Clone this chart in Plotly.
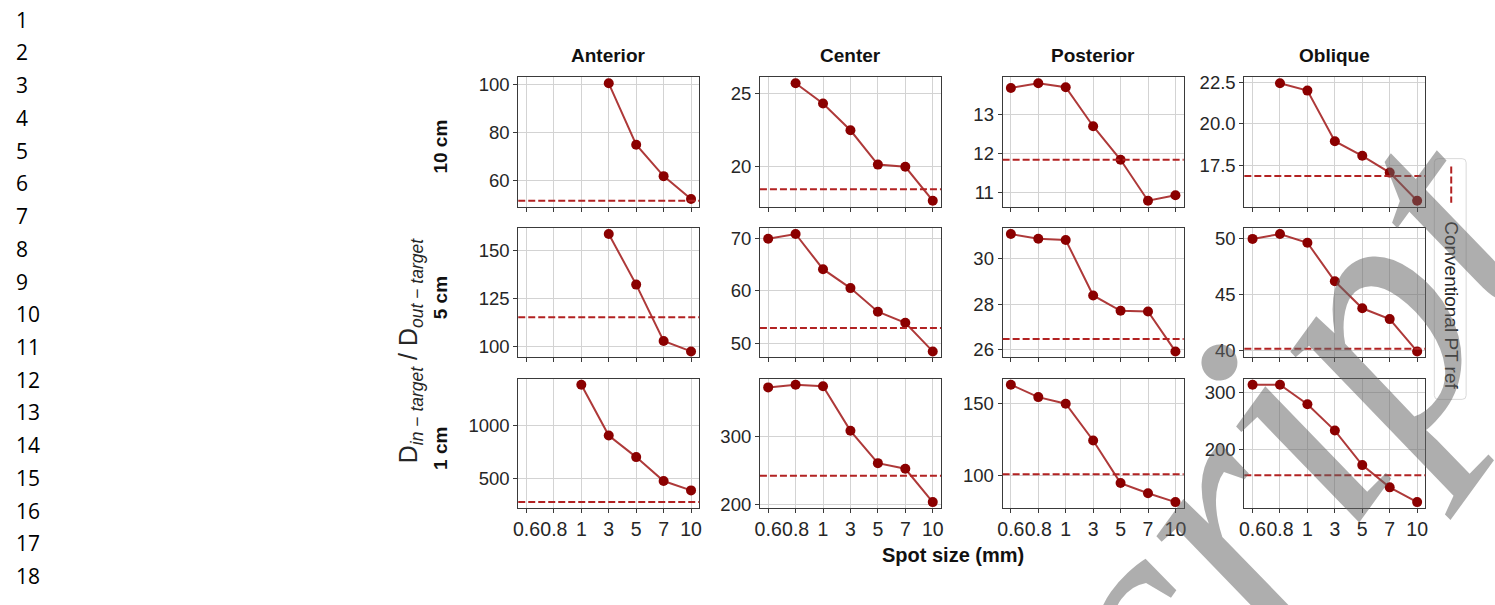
import plotly.graph_objects as go

W, H = 1495, 605

# ---------------- data ----------------
spot_sizes = ["0.6", "0.8", "1", "3", "5", "7", "10"]
positions = ["Anterior", "Center", "Posterior", "Oblique"]
depths = ["10 cm", "5 cm", "1 cm"]

ant_10 = [None, None, None, 100.3, 74.8, 61.8, 52.3]
cen_10 = [None, 25.67, 24.29, 22.47, 20.13, 19.98, 17.67]
pos_10 = [13.67, 13.79, 13.69, 12.69, 11.83, 10.78, 10.92]
obl_10 = [None, 22.44, 22.0, 18.96, 18.08, 17.07, 15.38]

ant_5 = [None, None, None, 158.5, 132.2, 102.9, 97.5]
cen_5 = [69.9, 70.8, 64.1, 60.5, 56.0, 53.9, 48.45]
pos_5 = [31.07, 30.86, 30.81, 28.38, 27.71, 27.68, 25.93]
obl_5 = [50.0, 50.44, 49.65, 46.2, 43.77, 42.8, 39.9]

ant_1 = [None, None, 1384, 906, 703, 478, 390]
cen_1 = [373, 377, 374.6, 308.8, 261, 252.7, 203.4]
pos_1 = [163.3, 154.6, 150, 124.3, 94.5, 87.4, 81.2]
obl_1 = [313, 313, 279, 233.1, 173, 134.3, 108.6]

ref_10 = [51.6, 18.45, 11.83, 16.87]
ref_5 = [115.3, 52.9, 26.47, 40.14]
ref_1 = [280, 242.4, 100.7, 155.4]

yticks_10 = [[60, 80, 100], [20, 25], [11, 12, 13], [17.5, 20.0, 22.5]]
yticks_5 = [[100, 125, 150], [50, 60, 70], [26, 28, 30], [40, 45, 50]]
yticks_1 = [[500, 1000], [200, 300], [100, 150], [200, 300]]
ytext_10 = [["60", "80", "100"], ["20", "25"], ["11", "12", "13"], ["17.5", "20.0", "22.5"]]
ytext_5 = [["100", "125", "150"], ["50", "60", "70"], ["26", "28", "30"], ["40", "45", "50"]]
ytext_1 = [["500", "1000"], ["200", "300"], ["100", "150"], ["200", "300"]]

line_numbers = [str(i) for i in range(1, 19)]

series = [[ant_10, cen_10, pos_10, obl_10],
          [ant_5, cen_5, pos_5, obl_5],
          [ant_1, cen_1, pos_1, obl_1]]
refs = [ref_10, ref_5, ref_1]
yticks = [yticks_10, yticks_5, yticks_1]
ytexts = [ytext_10, ytext_5, ytext_1]

# ---------------- layout helpers ----------------
def px(x):
    return x / W


def py(y):
    return 1 - y / H


col_left = [516, 759, 1003, 1246]
col_w = 182
row_top = [73, 227, 381]
row_h = 132

FONT = "Liberation Sans, Arial, sans-serif"
TICKC = "#262626"
LINE_C = "rgba(165,35,35,0.9)"
MARK_C = "#8b0000"
REF_C = "#b22222"

fig = go.Figure()
layout = {}
shapes = []
annotations = []

k = 0
for r in range(3):
    for c in range(4):
        k += 1
        xa = "xaxis" if k == 1 else f"xaxis{k}"
        ya = "yaxis" if k == 1 else f"yaxis{k}"
        xr = "x" if k == 1 else f"x{k}"
        yr = "y" if k == 1 else f"y{k}"
        vals = series[r][c]
        ref = refs[r][c]
        present = [v for v in vals if v is not None] + [ref]
        lo, hi = min(present), max(present)
        span = hi - lo
        yrange = [lo - 0.05 * span, hi + 0.05 * span]

        fig.add_trace(go.Scatter(
            x=spot_sizes, y=vals, mode="lines+markers",
            line=dict(color=LINE_C, width=2),
            marker=dict(color=MARK_C, size=10),
            xaxis=xr, yaxis=yr, showlegend=False,
            connectgaps=False, hoverinfo="skip"))

        shapes.append(dict(type="line", xref=f"{xr} domain", yref=yr,
                           x0=0, x1=1, y0=ref, y1=ref,
                           line=dict(color=REF_C, width=2, dash="7px,3px")))

        x0 = px(col_left[c])
        x1 = px(col_left[c] + col_w)
        y1 = py(row_top[r])
        y0 = py(row_top[r] + row_h)
        layout[xa] = dict(
            domain=[x0, x1], anchor=yr, type="category",
            categoryorder="array", categoryarray=spot_sizes,
            range=[-0.3, 6.3], showgrid=True, gridcolor="#d3d3d3", gridwidth=1,
            showline=True, linecolor="#3a3a3a", linewidth=1, mirror=True,
            ticks="outside", ticklen=4, tickcolor="#3a3a3a",
            showticklabels=(r == 2), tickangle=0,
            tickfont=dict(family=FONT, size=19.5, color=TICKC),
            zeroline=False, fixedrange=True)
        layout[ya] = dict(
            domain=[y0, y1], anchor=xr, range=yrange,
            tickvals=yticks[r][c], ticktext=ytexts[r][c],
            showgrid=True, gridcolor="#d3d3d3", gridwidth=1,
            showline=True, linecolor="#3a3a3a", linewidth=1, mirror=True,
            ticks="outside", ticklen=4, tickcolor="#3a3a3a",
            tickfont=dict(family=FONT, size=18.5, color=TICKC),
            zeroline=False, fixedrange=True)

# column titles
for c, name in enumerate(positions):
    annotations.append(dict(
        text=f"<b>{name}</b>", x=px(col_left[c] + col_w / 2), y=py(51),
        xref="paper", yref="paper", showarrow=False,
        xanchor="center", yanchor="middle",
        font=dict(family=FONT, size=19, color="#111111")))

# row labels
for r, name in enumerate(depths):
    annotations.append(dict(
        text=f"<b>{name}</b>", x=px(438), y=py(row_top[r] + row_h / 2 + 5),
        xref="paper", yref="paper", showarrow=False, textangle=-90,
        xanchor="center", yanchor="middle",
        font=dict(family=FONT, size=19, color="#111111")))

# common axis titles
annotations.append(dict(
    text="<b>Spot size (mm)</b>", x=px(953), y=py(561),
    xref="paper", yref="paper", showarrow=False,
    xanchor="center", yanchor="middle",
    font=dict(family=FONT, size=20, color="#111111")))
annotations.append(dict(
    text="D<sub><i>in</i> − <i>target</i></sub> / D<sub><i>out</i> − <i>target</i></sub>",
    x=px(408), y=py(352), xref="paper", yref="paper", showarrow=False,
    textangle=-90, xanchor="center", yanchor="middle",
    font=dict(family=FONT, size=25, color="#262626")))

# legend (drawn vertically like the reference)
lx0, lx1, ly0, ly1, rr = 1437, 1469, 156, 402, 4
path = (f"M {px(lx0 + rr)},{py(ly0)} L {px(lx1 - rr)},{py(ly0)} "
        f"Q {px(lx1)},{py(ly0)} {px(lx1)},{py(ly0 + rr)} "
        f"L {px(lx1)},{py(ly1 - rr)} Q {px(lx1)},{py(ly1)} {px(lx1 - rr)},{py(ly1)} "
        f"L {px(lx0 + rr)},{py(ly1)} Q {px(lx0)},{py(ly1)} {px(lx0)},{py(ly1 - rr)} "
        f"L {px(lx0)},{py(ly0 + rr)} Q {px(lx0)},{py(ly0)} {px(lx0 + rr)},{py(ly0)} Z")
shapes.append(dict(type="path", xref="paper", yref="paper", path=path,
                   line=dict(color="#d9d9d9", width=1), fillcolor="rgba(255,255,255,0.8)"))
shapes.append(dict(type="line", xref="paper", yref="paper",
                   x0=px(1454), x1=px(1454), y0=py(164), y1=py(201),
                   line=dict(color=REF_C, width=2, dash="7px,3px")))
annotations.append(dict(
    text="Conventional PT ref", x=px(1454), y=py(306),
    xref="paper", yref="paper", showarrow=False, textangle=90,
    xanchor="center", yanchor="middle",
    font=dict(family=FONT, size=19, color="#262626")))

# manuscript line numbers
for i, t in enumerate(line_numbers):
    annotations.append(dict(
        text=t, x=px(9), y=py(14 + 33.45 * i), xref="paper", yref="paper",
        showarrow=False, xanchor="left", yanchor="middle",
        font=dict(family="Open Sans, Noto Sans, sans-serif", size=21, color="#000000")))

# watermark
annotations.append(dict(
    text="script", x=px(1244), y=py(493), xref="paper", yref="paper",
    showarrow=False, textangle=-54, xanchor="center", yanchor="middle",
    font=dict(family="Liberation Serif, DejaVu Serif, serif", size=340,
              color="rgba(100,100,100,0.52)", style="italic")))

fig.update_layout(
    width=W, height=H, margin=dict(l=0, r=0, t=0, b=0),
    paper_bgcolor="white", plot_bgcolor="white",
    shapes=shapes, annotations=annotations, showlegend=False,
    **layout)

fig.write_html("out.html", config={"displayModeBar": False},
               post_script="document.body.style.margin='0';")
